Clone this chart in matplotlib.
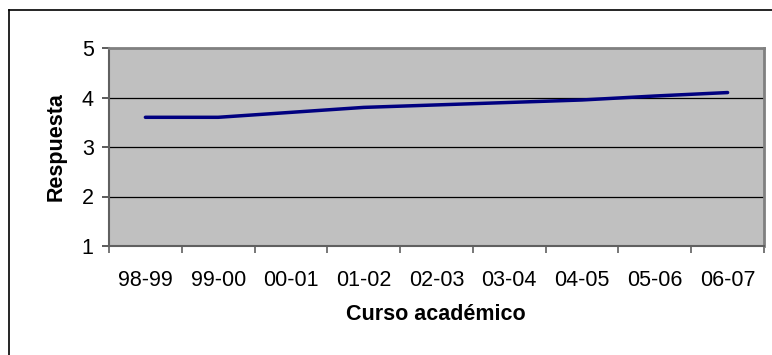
import matplotlib.pyplot as plt
from matplotlib.lines import Line2D
import numpy as np

plt.rcParams['font.family'] = ['Liberation Sans', 'DejaVu Sans']

# Data
cursos = ['98-99', '99-00', '00-01', '01-02', '02-03', '03-04', '04-05', '05-06', '06-07']
respuesta = [3.6, 3.6, 3.7, 3.8, 3.85, 3.9, 3.95, 4.03, 4.1]

W, H = 772, 355
fig = plt.figure(figsize=(W / 100, H / 100), dpi=100)
fig.patch.set_facecolor('white')

# plot area in pixel terms
left, top, right, bottom = 109, 48, 764, 246
ax = fig.add_axes([left / W, 1 - bottom / H, (right - left) / W, (bottom - top) / H])
ax.set_facecolor('#c0c0c0')

x = np.arange(len(cursos)) + 0.5
ax.plot(x, respuesta, color='#000080', lw=2.5, solid_capstyle='round', zorder=3)

ax.set_xlim(0, len(cursos))
ax.set_ylim(1, 5)

# gridlines
for yv in [2, 3, 4]:
    ax.axhline(yv, color='black', lw=0.9, zorder=1)

fs = 15.5

# y ticks
ax.set_yticks([1, 2, 3, 4, 5])
ax.set_yticklabels(['1', '2', '3', '4', '5'])
ax.tick_params(axis='y', direction='out', length=5, width=1.2, color='#404040',
               labelsize=fs, pad=6)

# x ticks: marks at category boundaries, labels at centers
ax.set_xticks(np.arange(len(cursos) + 1))
ax.set_xticklabels([])
ax.set_xticks(x, minor=True)
ax.set_xticklabels(cursos, minor=True)
ax.tick_params(axis='x', which='major', direction='out', length=5, width=1.2, color='#606060')
ax.tick_params(axis='x', which='minor', length=0, labelsize=fs, pad=17)

for side in ['top', 'right']:
    ax.spines[side].set_color('#808080')
    ax.spines[side].set_linewidth(2)
for side in ['left', 'bottom']:
    ax.spines[side].set_color('#606060')
    ax.spines[side].set_linewidth(1.5)

fig.text(436 / W, 1 - 314 / H, 'Curso académico', ha='center', va='center',
         fontsize=fs, fontweight='bold')
fig.text(56 / W, 1 - 147 / H, 'Respuesta', ha='center', va='center', rotation=90,
         fontsize=fs, fontweight='bold')

# outer chart border (only left and top visible in the crop)
fig.add_artist(Line2D([9 / W, 9 / W], [0, 1 - 10 / H], color='black', lw=1.2))
fig.add_artist(Line2D([9 / W, 1], [1 - 10 / H, 1 - 10 / H], color='black', lw=1.2))

fig.savefig('out.png', dpi=100)
